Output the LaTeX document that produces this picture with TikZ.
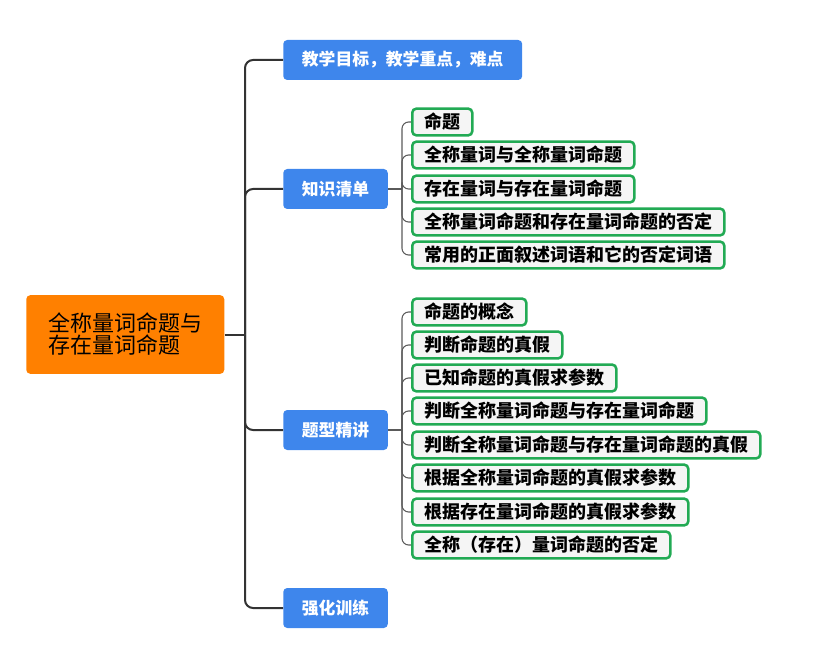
\documentclass[tikz,border=0pt]{standalone}
\usepackage{fontspec}
\setmainfont{Noto Sans CJK SC}
\usetikzlibrary{positioning}

\definecolor{rootorange}{RGB}{255,128,0}
\definecolor{topicblue}{RGB}{62,134,236}
\definecolor{leafgreen}{RGB}{34,170,84}
\definecolor{leafgrey}{RGB}{245,245,245}
\definecolor{spinegrey}{RGB}{51,51,51}
\definecolor{twiggrey}{RGB}{90,90,90}

\tikzset{
  rootbox/.style={fill=rootorange, rounded corners=3pt, anchor=west,
    inner xsep=16.5pt, minimum height=59pt, align=left,
    font=\fontsize{16.5}{16.5}\selectfont},
  topicbox/.style={fill=topicblue, text=white, rounded corners=3pt, anchor=west,
    inner xsep=14pt, inner ysep=0pt, minimum height=30pt,
    font=\bfseries\fontsize{12.6}{14}\selectfont},
  leafbox/.style={draw=leafgreen, line width=1.9pt, fill=leafgrey,
    rounded corners=3pt, anchor=west, inner xsep=9pt, inner ysep=0pt,
    minimum height=20pt, font=\bfseries\fontsize{13.5}{15}\selectfont},
  spine/.style={spinegrey, line width=1.5pt, rounded corners=6pt},
  twig/.style={twiggrey, line width=0.8pt, rounded corners=5pt}
}

\begin{document}
\begin{tikzpicture}[x=0.75pt, y=-0.75pt]
  \useasboundingbox (0,0) rectangle (813,659);

  % main topic
  \node[rootbox] (root) at (26,334.5) {全称量词命题与\\存在量词命题};

  % first level
  \node[topicbox] (goal) at (283,60) {教学目标，教学重点，难点};
  \node[topicbox] (know) at (283,189) {知识清单};
  \node[topicbox] (types) at (283,430) {题型精讲};
  \node[topicbox] (drill) at (283,608) {强化训练};

  \coordinate (hub) at (245,334.5);
  \draw[spine] (root.east) -- (hub);
  \foreach \t in {goal,know,types,drill}
    \draw[spine] (hub) |- (\t.west);

  % knowledge list
  \node[leafbox] (k1) at (411,122) {命题};
  \node[leafbox] (k2) at (411,155) {全称量词与全称量词命题};
  \node[leafbox] (k3) at (411,189) {存在量词与存在量词命题};
  \node[leafbox] (k4) at (411,222) {全称量词命题和存在量词命题的否定};
  \node[leafbox] (k5) at (411,255) {常用的正面叙述词语和它的否定词语};

  \coordinate (knowhub) at (402,189);
  \draw[twig] (know.east) -- (knowhub);
  \foreach \n in {k1,k2,k3,k4,k5}
    \draw[twig] (knowhub) |- (\n.west);

  % problem types
  \node[leafbox] (t1) at (411,312) {命题的概念};
  \node[leafbox] (t2) at (411,345) {判断命题的真假};
  \node[leafbox] (t3) at (411,378) {已知命题的真假求参数};
  \node[leafbox] (t4) at (411,411) {判断全称量词命题与存在量词命题};
  \node[leafbox] (t5) at (411,445) {判断全称量词命题与存在量词命题的真假};
  \node[leafbox] (t6) at (411,478) {根据全称量词命题的真假求参数};
  \node[leafbox] (t7) at (411,512) {根据存在量词命题的真假求参数};
  \node[leafbox] (t8) at (411,545) {全称（存在）量词命题的否定};

  \coordinate (typeshub) at (402,430);
  \draw[twig] (types.east) -- (typeshub);
  \foreach \n in {t1,t2,t3,t4,t5,t6,t7,t8}
    \draw[twig] (typeshub) |- (\n.west);
\end{tikzpicture}
\end{document}
